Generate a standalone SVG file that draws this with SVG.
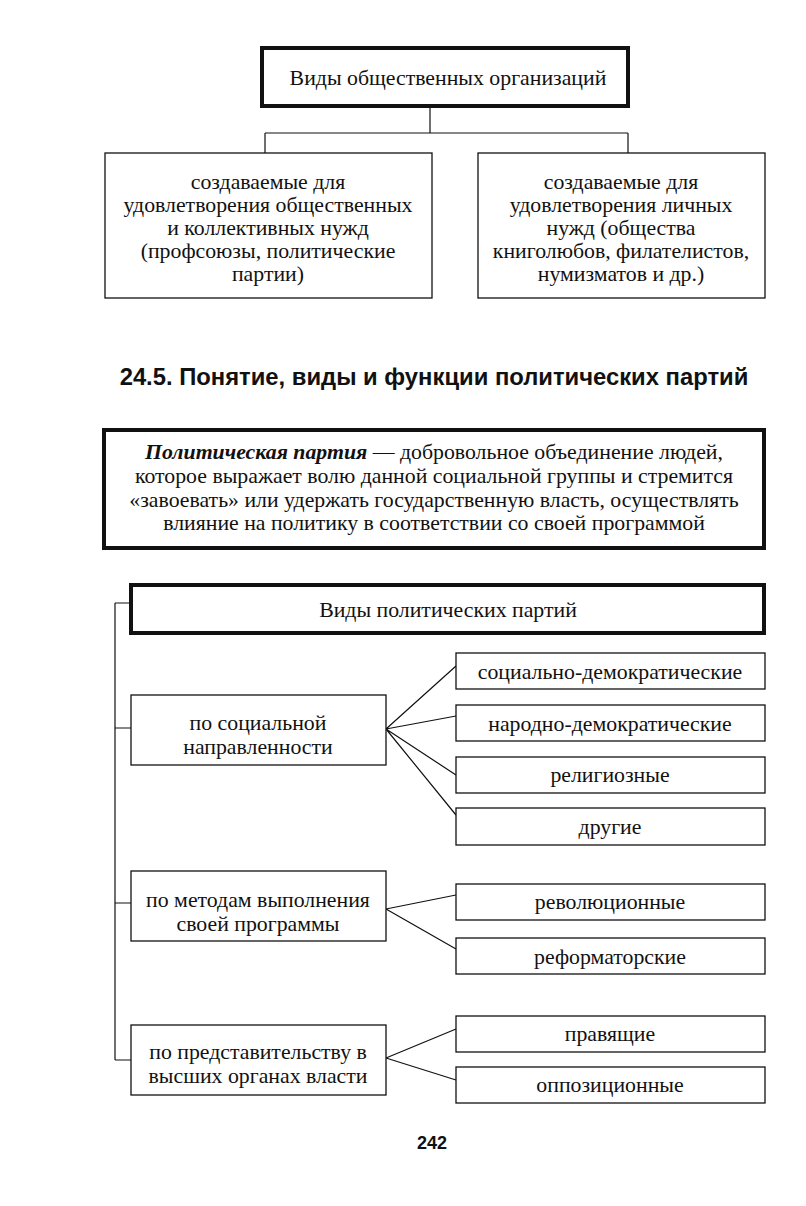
<svg xmlns="http://www.w3.org/2000/svg" width="806" height="1206" viewBox="0 0 806 1206">
<style>
.t{font-family:"Liberation Serif","Times New Roman",serif;font-size:21.8px;fill:#111;text-anchor:middle}
.thin{fill:#fff;stroke:#111;stroke-width:1.3}
.thick{fill:#fff;stroke:#111;stroke-width:4}
.c{stroke:#111;stroke-width:1.2;fill:none}
.h{font-family:"Liberation Sans",Arial,sans-serif;font-weight:bold;font-size:23.8px;fill:#111;text-anchor:middle}
</style>
<rect width="806" height="1206" fill="#fff"/>
<g id="connectors">
<path class="c" d="M430 106V133M265 133H628M265 133V153M628 133V153"/>
<path class="c" d="M115 603V1060M115 603H131M115 728H131M115 903H131M115 1060H131"/>
<path class="c" d="M386 729L456 666M386 729L456 716M386 729L456 775M386 729L456 815"/>
<path class="c" d="M386 909L456 895M386 909L456 949"/>
<path class="c" d="M386 1058L456 1029M386 1058L456 1080"/>
</g>
<g id="n-top"><rect class="thick" x="262" y="48" width="366" height="58"/><text class="t" x="448" y="85">Виды общественных организаций</text></g>
<g id="n-left"><rect class="thin" x="105" y="153" width="327" height="145"/>
<text class="t" x="268" y="189">создаваемые для</text>
<text class="t" x="268" y="212">удовлетворения общественных</text>
<text class="t" x="268" y="235">и коллективных нужд</text>
<text class="t" x="268" y="258">(профсоюзы, политические</text>
<text class="t" x="268" y="281">партии)</text></g>
<g id="n-right"><rect class="thin" x="478" y="153" width="287" height="145"/>
<text class="t" x="621" y="189">создаваемые для</text>
<text class="t" x="621" y="212">удовлетворения личных</text>
<text class="t" x="621" y="235">нужд (общества</text>
<text class="t" x="621" y="258">книголюбов, филателистов,</text>
<text class="t" x="621" y="281">нумизматов и др.)</text></g>
<text class="h" x="434" y="385">24.5. Понятие, виды и функции политических партий</text>
<g id="n-def"><rect class="thick" x="104" y="430" width="660" height="118"/>
<text class="t" x="434" y="459"><tspan font-weight="bold" font-style="italic">Политическая партия</tspan> — добровольное объединение людей,</text>
<text class="t" x="434" y="483">которое выражает волю данной социальной группы и стремится</text>
<text class="t" x="434" y="507">«завоевать» или удержать государственную власть, осуществлять</text>
<text class="t" x="434" y="530">влияние на политику в соответствии со своей программой</text></g>
<g id="n-types"><rect class="thick" x="131" y="585" width="633" height="48"/><text class="t" x="448" y="617">Виды политических партий</text></g>
<g id="n-soc"><rect class="thin" x="131" y="695" width="255" height="70"/><text class="t" x="258" y="730">по социальной</text><text class="t" x="258" y="754">направленности</text></g>
<g id="n-sd"><rect class="thin" x="456" y="653" width="309" height="36"/><text class="t" x="610" y="679">социально-демократические</text></g>
<g id="n-nd"><rect class="thin" x="456" y="705" width="309" height="36"/><text class="t" x="610" y="731">народно-демократические</text></g>
<g id="n-rel"><rect class="thin" x="456" y="757" width="309" height="36"/><text class="t" x="610" y="782">религиозные</text></g>
<g id="n-oth"><rect class="thin" x="456" y="808" width="309" height="37"/><text class="t" x="610" y="834">другие</text></g>
<g id="n-met"><rect class="thin" x="131" y="871" width="255" height="70"/><text class="t" x="258" y="907">по методам выполнения</text><text class="t" x="258" y="931">своей программы</text></g>
<g id="n-rev"><rect class="thin" x="456" y="884" width="309" height="36"/><text class="t" x="610" y="909">революционные</text></g>
<g id="n-ref"><rect class="thin" x="456" y="938" width="309" height="36"/><text class="t" x="610" y="964">реформаторские</text></g>
<g id="n-rep"><rect class="thin" x="131" y="1025" width="255" height="70"/><text class="t" x="258" y="1059">по представительству в</text><text class="t" x="258" y="1083">высших органах власти</text></g>
<g id="n-rul"><rect class="thin" x="456" y="1016" width="309" height="36"/><text class="t" x="610" y="1041">правящие</text></g>
<g id="n-opp"><rect class="thin" x="456" y="1067" width="309" height="36"/><text class="t" x="610" y="1092">оппозиционные</text></g>
<text x="432" y="1149" font-family="Liberation Sans,Arial,sans-serif" font-size="18" font-weight="bold" fill="#111" text-anchor="middle">242</text>
</svg>
